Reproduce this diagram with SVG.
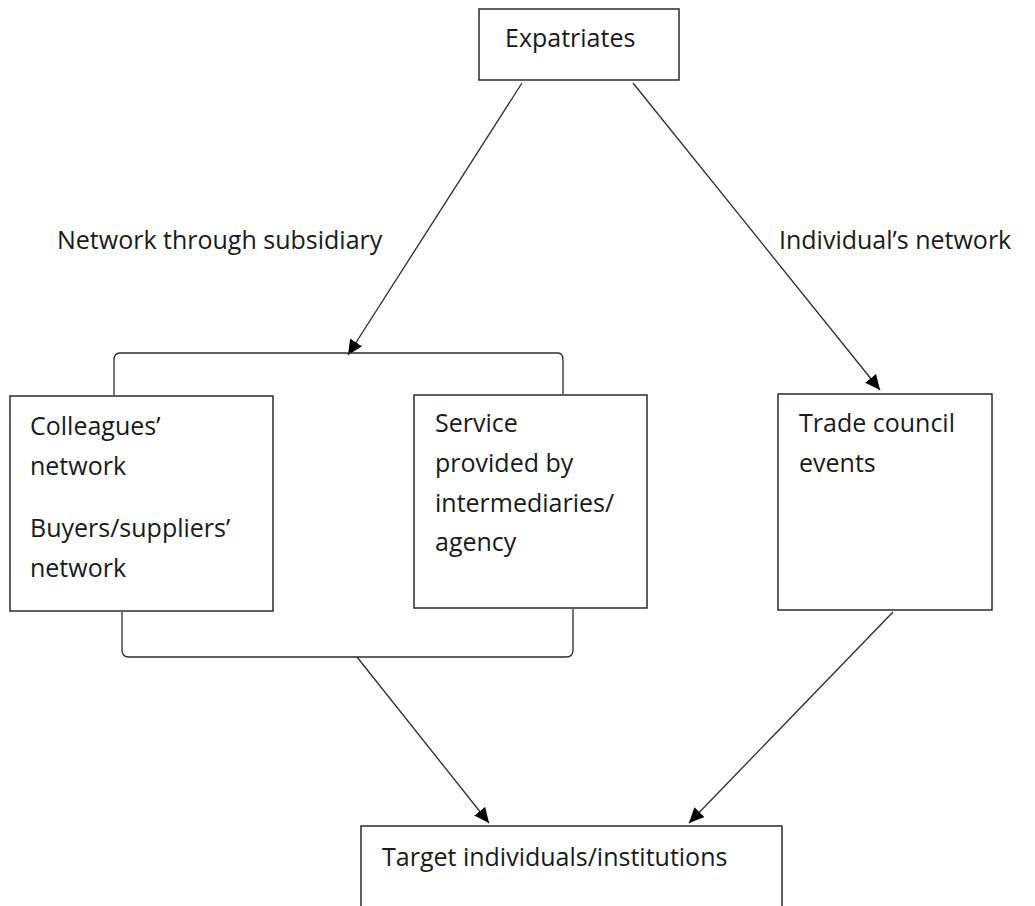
<svg xmlns="http://www.w3.org/2000/svg" width="1035" height="906" viewBox="0 0 1035 906">
<defs>
<style>
.box{fill:#fff;stroke:#2b2b2b;stroke-width:1.5}
.t{font-family:"Open Sans","Noto Sans",sans-serif;font-size:25px;fill:#1a1a1a}
.ln{fill:none;stroke:#2b2b2b;stroke-width:1.3}
</style>
<marker id="ah" markerWidth="15" markerHeight="14" refX="15" refY="7" orient="auto" markerUnits="userSpaceOnUse">
<path d="M0,0 L15,7 L0,14 Z" fill="#000"/>
</marker>
</defs>
<rect width="1035" height="906" fill="#fff"/>
<g id="connectors">
<path class="ln" d="M522,83 L348,355" marker-end="url(#ah)"/>
<path class="ln" d="M633,83 L880,390" marker-end="url(#ah)"/>
<path class="ln" d="M114,395 L114,360 Q114,353 120,353 L558,353 Q563,353 563,360 L563,394"/>
<path class="ln" d="M122,612 L122,650 Q122,657 129,657 L566,657 Q573,657 573,650 L573,609"/>
<path class="ln" d="M357,657 L489,823" marker-end="url(#ah)"/>
<path class="ln" d="M893,612 L689,823" marker-end="url(#ah)"/>
</g>
<g id="label-subsidiary"><text class="t" x="57" y="249">Network through subsidiary</text></g>
<g id="label-individual"><text class="t" x="779" y="249">Individual’s network</text></g>
<g id="expatriates">
<rect class="box" x="479" y="9" width="200" height="71"/>
<text class="t" x="505" y="47">Expatriates</text>
</g>
<g id="colleagues">
<rect class="box" x="10" y="396" width="263" height="215"/>
<text class="t" x="30" y="435">Colleagues’</text>
<text class="t" x="30" y="475">network</text>
<text class="t" x="30" y="537">Buyers/suppliers’</text>
<text class="t" x="30" y="577">network</text>
</g>
<g id="service">
<rect class="box" x="414" y="395" width="233" height="213"/>
<text class="t" x="435" y="432">Service</text>
<text class="t" x="435" y="472">provided by</text>
<text class="t" x="435" y="512">intermediaries/</text>
<text class="t" x="435" y="551">agency</text>
</g>
<g id="trade-council">
<rect class="box" x="778" y="394" width="214" height="216"/>
<text class="t" x="799" y="432">Trade council</text>
<text class="t" x="799" y="472">events</text>
</g>
<g id="target">
<rect class="box" x="361" y="826" width="421" height="90"/>
<text class="t" x="382" y="866">Target individuals/institutions</text>
</g>
</svg>
